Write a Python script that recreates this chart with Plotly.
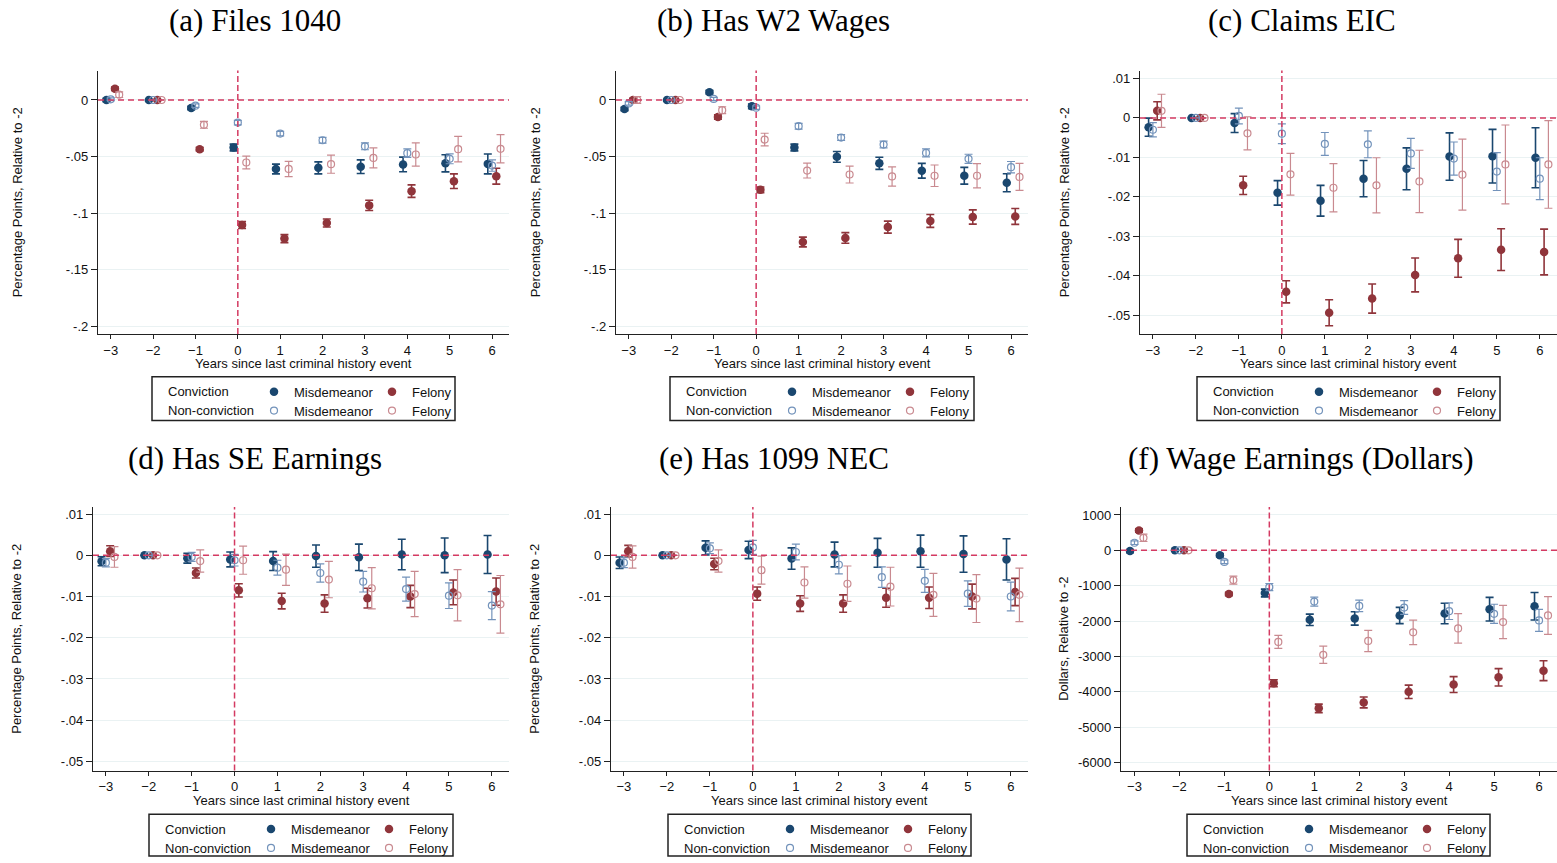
import plotly.graph_objects as go

W, H = 1557, 863

YEARS = [-3, -2, -1, 0, 1, 2, 3, 4, 5, 6]

# (a) Files 1040
f1040_conv_misd = [0.000, 0, -0.007, -0.042, -0.061, -0.060, -0.059, -0.057, -0.056, -0.0565]
f1040_conv_misd_ci = [0.0015, 0, 0.0015, 0.003, 0.0043, 0.0053, 0.006, 0.0065, 0.0076, 0.0088]
f1040_nonconv_misd = [0.0006, 0, -0.005, -0.020, -0.0297, -0.0356, -0.041, -0.047, -0.052, -0.058]
f1040_nonconv_misd_ci = [0.0012, 0, 0.0015, 0.002, 0.002, 0.0025, 0.003, 0.0037, 0.0044, 0.005]
f1040_conv_fel = [0.010, 0, -0.0435, -0.1106, -0.1226, -0.1088, -0.0932, -0.0806, -0.0718, -0.0674]
f1040_conv_fel_ci = [0.0015, 0, 0.0015, 0.003, 0.0035, 0.0035, 0.0045, 0.0055, 0.0065, 0.007]
f1040_nonconv_fel = [0.0047, 0, -0.022, -0.0553, -0.061, -0.0568, -0.0512, -0.0482, -0.0435, -0.0432]
f1040_nonconv_fel_ci = [0.0025, 0, 0.003, 0.0056, 0.0068, 0.008, 0.0088, 0.0103, 0.0113, 0.0125]

# (b) Has W2 Wages
w2_conv_misd = [-0.0079, 0, 0.0068, -0.0056, -0.042, -0.0503, -0.056, -0.0626, -0.067, -0.0732]
w2_conv_misd_ci = [0.0015, 0, 0.0015, 0.002, 0.003, 0.0048, 0.0054, 0.0065, 0.0074, 0.008]
w2_nonconv_misd = [-0.003, 0, 0.0009, -0.0068, -0.0232, -0.0332, -0.0394, -0.0468, -0.052, -0.0594]
w2_nonconv_misd_ci = [0.0015, 0, 0.0015, 0.0015, 0.0025, 0.0025, 0.003, 0.0035, 0.004, 0.005]
w2_conv_fel = [0.0, 0, -0.015, -0.0794, -0.1256, -0.122, -0.1124, -0.107, -0.1035, -0.103]
w2_conv_fel_ci = [0.0015, 0, 0.002, 0.0025, 0.0043, 0.0047, 0.0053, 0.0057, 0.0063, 0.007]
w2_nonconv_fel = [0.0, 0, -0.009, -0.035, -0.0624, -0.0659, -0.0676, -0.067, -0.067, -0.068]
w2_nonconv_fel_ci = [0.003, 0, 0.003, 0.0056, 0.0066, 0.0075, 0.0085, 0.0095, 0.0107, 0.012]

# (c) Claims EIC
eic_conv_misd = [-0.00235, 0, -0.0013, -0.019, -0.021, -0.0154, -0.0129, -0.0098, -0.0097, -0.0101]
eic_conv_misd_ci = [0.0023, 0, 0.0024, 0.0031, 0.0039, 0.0046, 0.0053, 0.006, 0.0068, 0.0076]
eic_nonconv_misd = [-0.003, 0, 0.0005, -0.004, -0.0066, -0.0067, -0.009, -0.0103, -0.0136, -0.0154]
eic_nonconv_misd_ci = [0.0018, 0, 0.002, 0.0025, 0.0029, 0.0034, 0.0038, 0.0042, 0.0048, 0.0053]
eic_conv_fel = [0.0018, 0, -0.0171, -0.0441, -0.0494, -0.0458, -0.0398, -0.0356, -0.0334, -0.034]
eic_conv_fel_ci = [0.0023, 0, 0.0023, 0.0028, 0.0033, 0.0037, 0.0043, 0.0048, 0.0053, 0.0058]
eic_nonconv_fel = [0.0018, 0, -0.0039, -0.0143, -0.0177, -0.0171, -0.0161, -0.0144, -0.0118, -0.0118]
eic_nonconv_fel_ci = [0.0042, 0, 0.0042, 0.0053, 0.0061, 0.007, 0.0079, 0.009, 0.01, 0.0111]

# (d) Has SE Earnings
se_conv_misd = [-0.00145, 0, -0.0007, -0.001, -0.0014, -0.0002, -0.0005, 0.0002, 0.0, 0.0002]
se_conv_misd_ci = [0.0011, 0, 0.0012, 0.0018, 0.0023, 0.0027, 0.0032, 0.0037, 0.0042, 0.0046]
se_nonconv_misd = [-0.0018, 0, -0.0004, -0.0012, -0.003, -0.0043, -0.0064, -0.0082, -0.0098, -0.0122]
se_nonconv_misd_ci = [0.001, 0, 0.0011, 0.0014, 0.0018, 0.0022, 0.0025, 0.0029, 0.0031, 0.0034]
se_conv_fel = [0.001, 0, -0.0043, -0.0085, -0.0111, -0.0117, -0.0104, -0.01, -0.009, -0.0088]
se_conv_fel_ci = [0.0013, 0, 0.0012, 0.0016, 0.0019, 0.0021, 0.0024, 0.0027, 0.003, 0.0033]
se_nonconv_fel = [-0.0004, 0, -0.0014, -0.0012, -0.0035, -0.0059, -0.008, -0.0094, -0.0097, -0.0119]
se_nonconv_fel_ci = [0.0025, 0, 0.0027, 0.0034, 0.0038, 0.0044, 0.005, 0.0055, 0.0062, 0.007]

# (e) Has 1099 NEC
nec_conv_misd = [-0.0018, 0, 0.0018, 0.0013, -0.0008, 0.0002, 0.0006, 0.001, 0.0003, -0.001]
nec_conv_misd_ci = [0.0014, 0, 0.0017, 0.0021, 0.0026, 0.003, 0.0035, 0.0039, 0.0044, 0.005]
nec_nonconv_misd = [-0.0018, 0, 0.0017, 0.0019, 0.0008, -0.0023, -0.0053, -0.0062, -0.0093, -0.01]
nec_nonconv_misd_ci = [0.0012, 0, 0.0013, 0.0017, 0.0019, 0.0022, 0.0025, 0.0028, 0.0031, 0.0035]
nec_conv_fel = [0.001, 0, -0.0021, -0.0093, -0.0117, -0.0117, -0.0103, -0.0103, -0.01, -0.0089]
nec_conv_fel_ci = [0.0014, 0, 0.0014, 0.0016, 0.0019, 0.0021, 0.0023, 0.0026, 0.003, 0.0033]
nec_nonconv_fel = [-0.0004, 0, -0.0014, -0.0036, -0.0066, -0.0069, -0.0076, -0.0096, -0.0105, -0.0096]
nec_nonconv_fel_ci = [0.0027, 0, 0.0027, 0.0034, 0.0038, 0.0043, 0.0047, 0.0052, 0.0058, 0.0065]

# (f) Wage Earnings (Dollars)
wage_conv_misd = [-20, 0, -140, -1206, -1963, -1925, -1841, -1785, -1664, -1580]
wage_conv_misd_ci = [45, 0, 45, 110, 160, 190, 230, 290, 335, 390]
wage_nonconv_misd = [215, 0, -327, -1037, -1449, -1570, -1617, -1720, -1794, -1981]
wage_nonconv_misd_ci = [50, 0, 50, 100, 125, 160, 195, 235, 270, 310]
wage_conv_fel = [561, 0, -1234, -3757, -4467, -4299, -4000, -3794, -3589, -3402]
wage_conv_fel_ci = [50, 0, 50, 100, 120, 155, 190, 225, 245, 280]
wage_nonconv_fel = [355, 0, -841, -2589, -2953, -2561, -2318, -2206, -2028, -1841]
wage_nonconv_fel_ci = [105, 0, 115, 185, 245, 300, 345, 415, 470, 535]

PP_TICKS = [0, -0.05, -0.1, -0.15, -0.2]
PP_TICKTEXT = ["0", "-.05", "-.1", "-.15", "-.2"]
SMALL_TICKS = [0.01, 0, -0.01, -0.02, -0.03, -0.04, -0.05]
SMALL_TICKTEXT = [".01", "0", "-.01", "-.02", "-.03", "-.04", "-.05"]
DOLLAR_TICKS = [1000, 0, -1000, -2000, -3000, -4000, -5000, -6000]
DOLLAR_TICKTEXT = ["1000", "0", "-1000", "-2000", "-3000", "-4000", "-5000", "-6000"]

ROW_LABELS = ["Conviction", "Non-conviction"]
PP_TITLE = "Percentage Points, Relative to -2"
XTITLE = "Years since last criminal history event"

# series look: colour, marker, dodge offset, legend row
STYLE = {
    "conv_misd": dict(name="Misdemeanor", color="#1a476f", symbol="circle", size=8.5, off=-0.1, row=0),
    "nonconv_misd": dict(name="Misdemeanor", color="#7393bb", symbol="circle-open", size=7, off=0.0, row=1),
    "conv_fel": dict(name="Felony", color="#90353b", symbol="circle", size=8.5, off=0.1, row=0),
    "nonconv_fel": dict(name="Felony", color="#c98a90", symbol="circle-open", size=7, off=0.2, row=1),
}
ORDER = ["conv_misd", "conv_fel", "nonconv_misd", "nonconv_fel"]

# panel geometry in pixels: plot left/right/top/bottom, title centre, legend box
panels = [
    dict(title="(a) Files 1040", ytitle=PP_TITLE, yrange=[-0.207, 0.026], ticks=(PP_TICKS, PP_TICKTEXT),
         series={"conv_misd": (f1040_conv_misd, f1040_conv_misd_ci), "nonconv_misd": (f1040_nonconv_misd, f1040_nonconv_misd_ci),
                 "conv_fel": (f1040_conv_fel, f1040_conv_fel_ci), "nonconv_fel": (f1040_nonconv_fel, f1040_nonconv_fel_ci)},
         box=(98, 509, 71, 336), tx=254.5, ty=21, ytx=17, leg=(152, 455, 379, 423)),
    dict(title="(b) Has W2 Wages", ytitle=PP_TITLE, yrange=[-0.207, 0.026], ticks=(PP_TICKS, PP_TICKTEXT),
         series={"conv_misd": (w2_conv_misd, w2_conv_misd_ci), "nonconv_misd": (w2_nonconv_misd, w2_nonconv_misd_ci),
                 "conv_fel": (w2_conv_fel, w2_conv_fel_ci), "nonconv_fel": (w2_nonconv_fel, w2_nonconv_fel_ci)},
         box=(616, 1028, 71, 336), tx=773, ty=21, ytx=535, leg=(670, 974, 379, 423)),
    dict(title="(c) Claims EIC", ytitle=PP_TITLE, yrange=[-0.0548, 0.012], ticks=(SMALL_TICKS, SMALL_TICKTEXT),
         series={"conv_misd": (eic_conv_misd, eic_conv_misd_ci), "nonconv_misd": (eic_nonconv_misd, eic_nonconv_misd_ci),
                 "conv_fel": (eic_conv_fel, eic_conv_fel_ci), "nonconv_fel": (eic_nonconv_fel, eic_nonconv_fel_ci)},
         box=(1140, 1557, 71, 336), tx=1301.5, ty=21, ytx=1064, leg=(1197, 1500, 379, 423)),
    dict(title="(d) Has SE Earnings", ytitle=PP_TITLE, yrange=[-0.0522, 0.0117], ticks=(SMALL_TICKS, SMALL_TICKTEXT),
         series={"conv_misd": (se_conv_misd, se_conv_misd_ci), "nonconv_misd": (se_nonconv_misd, se_nonconv_misd_ci),
                 "conv_fel": (se_conv_fel, se_conv_fel_ci), "nonconv_fel": (se_nonconv_fel, se_nonconv_fel_ci)},
         box=(93, 509, 510, 775), tx=254.5, ty=461, ytx=17, leg=(149, 453, 819, 861)),
    dict(title="(e) Has 1099 NEC", ytitle=PP_TITLE, yrange=[-0.0522, 0.0117], ticks=(SMALL_TICKS, SMALL_TICKTEXT),
         series={"conv_misd": (nec_conv_misd, nec_conv_misd_ci), "nonconv_misd": (nec_nonconv_misd, nec_nonconv_misd_ci),
                 "conv_fel": (nec_conv_fel, nec_conv_fel_ci), "nonconv_fel": (nec_nonconv_fel, nec_nonconv_fel_ci)},
         box=(611, 1028, 510, 775), tx=773.5, ty=461, ytx=535, leg=(668, 971, 819, 861)),
    dict(title="(f) Wage Earnings (Dollars)", ytitle="Dollars, Relative to -2", yrange=[-6224, 1224], ticks=(DOLLAR_TICKS, DOLLAR_TICKTEXT),
         series={"conv_misd": (wage_conv_misd, wage_conv_misd_ci), "nonconv_misd": (wage_nonconv_misd, wage_nonconv_misd_ci),
                 "conv_fel": (wage_conv_fel, wage_conv_fel_ci), "nonconv_fel": (wage_nonconv_fel, wage_nonconv_fel_ci)},
         box=(1121, 1557, 510, 775), tx=1301, ty=461, ytx=1064, leg=(1187, 1490, 819, 861)),
]


def px(x):
    return x / W


def py(y):
    return 1 - y / H


SANS = "Liberation Sans, Arial, sans-serif"
SERIF = "Liberation Serif, Times New Roman, serif"
REFLINE = "#d43a62"

fig = go.Figure()
shapes, annotations, legends = [], [], {}

for i, p in enumerate(panels):
    ax = "" if i == 0 else str(i + 1)
    left, right, top, bottom = p["box"]
    lb_left, lb_right, lb_top, lb_bottom = p["leg"]
    row_y = [lb_top + 15, lb_top + 34]

    for key in ORDER:
        st = STYLE[key]
        vals, ci = p["series"][key]
        leg_n = 2 * i + st["row"] + 1
        leg_id = "legend" if leg_n == 1 else "legend%d" % leg_n
        hollow = st["symbol"].endswith("open")
        fig.add_trace(go.Scatter(
            x=[yr + st["off"] for yr in YEARS], y=vals,
            mode="markers", name=st["name"],
            xaxis="x" + ax, yaxis="y" + ax, legend=leg_id,
            marker=dict(symbol=st["symbol"], size=st["size"], color=st["color"],
                        line=dict(width=1.2 if hollow else 0, color=st["color"])),
            error_y=dict(type="data", array=ci, visible=True, color=st["color"],
                         thickness=1.6 if not hollow else 1.2, width=4),
        ))

    for r in range(2):
        leg_n = 2 * i + r + 1
        leg_id = "legend" if leg_n == 1 else "legend%d" % leg_n
        legends[leg_id] = dict(
            orientation="h", x=px(lb_left + 102), y=py(row_y[r]),
            xanchor="left", yanchor="middle", bgcolor="rgba(0,0,0,0)",
            borderwidth=0, entrywidth=73, entrywidthmode="pixels",
            itemwidth=30, tracegroupgap=0, title=dict(text=""),
            font=dict(family=SANS, size=13, color="#111"),
            itemclick=False, itemdoubleclick=False,
        )
        annotations.append(dict(text=ROW_LABELS[r], x=px(lb_left + 14), y=py(row_y[r]),
                                xref="paper", yref="paper", xanchor="left", yanchor="middle",
                                showarrow=False, font=dict(family=SANS, size=13, color="#111")))

    shapes.append(dict(type="rect", xref="paper", yref="paper",
                       x0=px(lb_left), x1=px(lb_right), y0=py(lb_bottom), y1=py(lb_top),
                       line=dict(color="#222", width=1.5), fillcolor="rgba(0,0,0,0)"))

    # reference lines at zero
    shapes.append(dict(type="line", xref="x%s domain" % ax, yref="y" + ax, x0=0, x1=1, y0=0, y1=0,
                       line=dict(color=REFLINE, width=1.5, dash="6px,4px")))
    shapes.append(dict(type="line", xref="x" + ax, yref="y%s domain" % ax, x0=0, x1=0, y0=0, y1=1,
                       line=dict(color=REFLINE, width=1.5, dash="6px,3px")))

    annotations.append(dict(text=p["title"], x=px(p["tx"]), y=py(p["ty"]), xref="paper", yref="paper",
                            xanchor="center", yanchor="middle", showarrow=False,
                            font=dict(family=SERIF, size=31, color="#000")))
    annotations.append(dict(text=p["ytitle"], x=px(p["ytx"]), y=py((top + bottom) / 2), xref="paper", yref="paper",
                            xanchor="center", yanchor="middle", textangle=-90, showarrow=False,
                            font=dict(family=SANS, size=13, color="#111")))
    annotations.append(dict(text=XTITLE, x=px((left + right) / 2), y=py(bottom + 30), xref="paper", yref="paper",
                            xanchor="center", yanchor="middle", showarrow=False,
                            font=dict(family=SANS, size=13, color="#111")))

    tickvals, ticktext = p["ticks"]
    fig.update_layout(**{
        "xaxis" + ax: dict(domain=[px(left), px(right)], range=[-3.3, 6.4], anchor="y" + ax,
                           tickvals=YEARS, ticks="outside", ticklen=4, tickcolor="#222",
                           showline=True, linecolor="#222", linewidth=1.3, showgrid=False, zeroline=False,
                           tickfont=dict(family=SANS, size=13, color="#111"), fixedrange=True),
        "yaxis" + ax: dict(domain=[py(bottom), py(top)], range=p["yrange"], anchor="x" + ax,
                           tickvals=tickvals, ticktext=ticktext, ticks="outside", ticklen=6, tickcolor="#222",
                           showline=True, linecolor="#222", linewidth=1.3, showgrid=True, gridcolor="#eaf2f3",
                           gridwidth=1, zeroline=False,
                           tickfont=dict(family=SANS, size=13, color="#111"), fixedrange=True),
    })

fig.update_layout(
    width=W, height=H, margin=dict(l=0, r=0, t=0, b=0),
    paper_bgcolor="white", plot_bgcolor="white",
    shapes=shapes, annotations=annotations, **legends,
)

# the page body has a default 8px margin and the inline svg container adds a
# few px below it; remove both so the page is exactly the figure size
page_fix = (
    "document.body.style.margin='0';"
    "document.documentElement.style.overflow='hidden';"
    "document.querySelectorAll('.svg-container').forEach(function(e){e.style.verticalAlign='top';});"
    "var gd=document.getElementById('{plot_id}'); gd.style.overflow='hidden'; gd.parentNode.style.height='863px';"
)
fig.write_html("out.html", config={"displayModeBar": False}, post_script=page_fix)
